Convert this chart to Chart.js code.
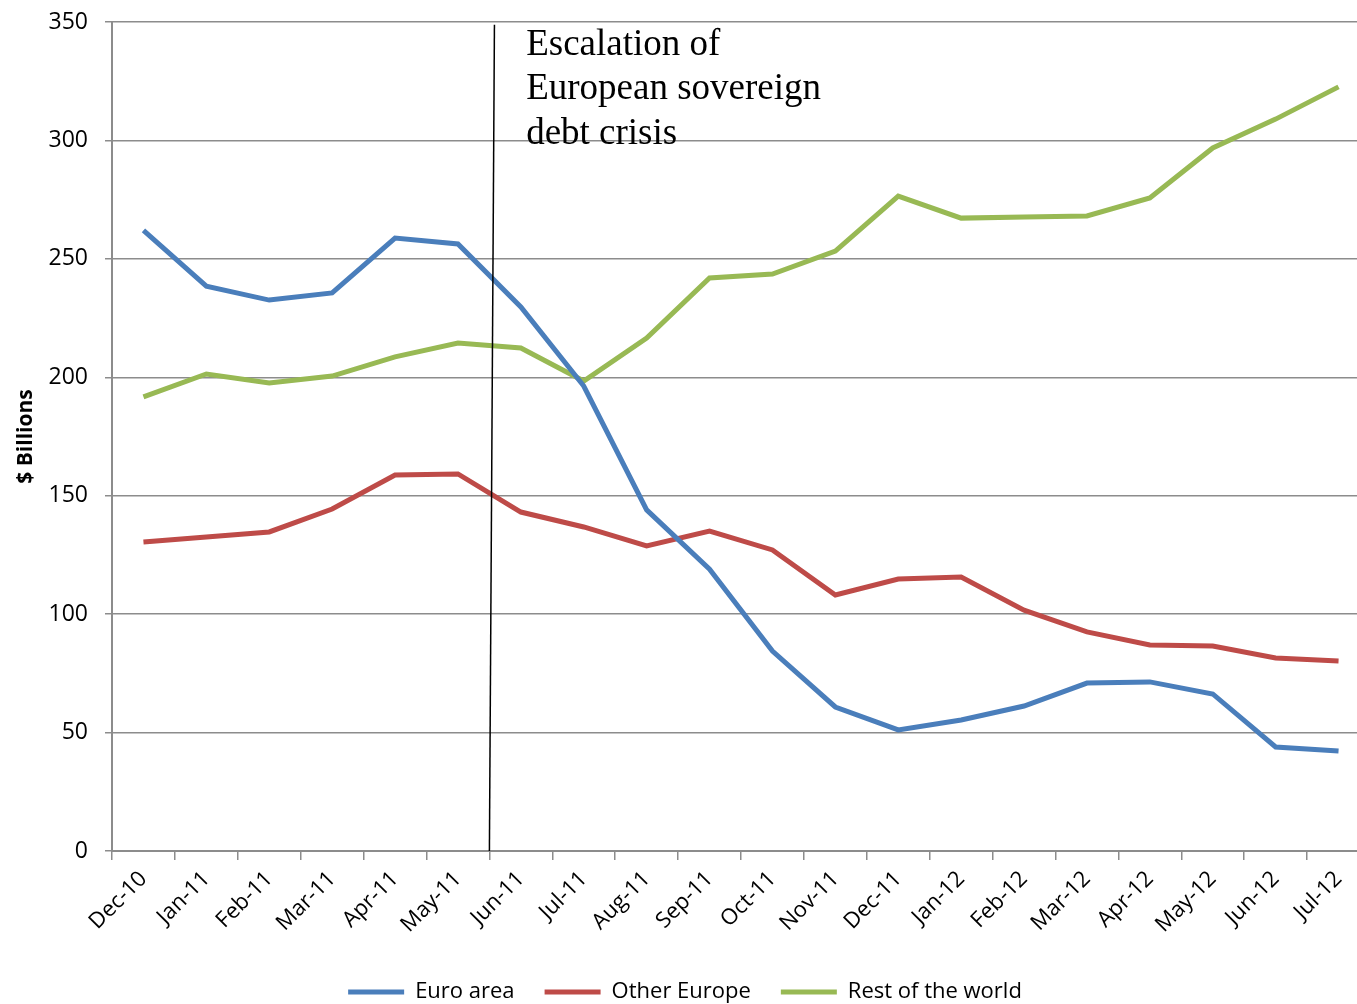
<!DOCTYPE html>
<html>
<head>
<meta charset="utf-8">
<script src="https://cdn.jsdelivr.net/npm/chart.js@4"></script>
<style>
  html, body { margin:0; padding:0; background:#fff; overflow:hidden; }
  #wrap { width:1357px; height:1004px; overflow:hidden; }
</style>
</head>
<body>
<div id="wrap"><canvas id="chart" width="1370" height="1013"></canvas></div>
<script>
const months = ["Dec-10","Jan-11","Feb-11","Mar-11","Apr-11","May-11","Jun-11","Jul-11","Aug-11","Sep-11",
  "Oct-11","Nov-11","Dec-11","Jan-12","Feb-12","Mar-12","Apr-12","May-12","Jun-12","Jul-12"];

const euroArea = [262,238.5,232.6,235.6,258.8,256.3,229.7,196.3,144,119,84.4,60.8,51.1,55.3,61.2,70.9,71.4,66.3,43.9,42.2];
const otherEurope = [130.5,132.6,134.7,144.4,158.7,159.2,143.1,136.8,128.8,135.1,127.1,108.1,114.8,115.7,101.7,92.5,87,86.5,81.5,80.2];
const restOfWorld = [191.7,201.4,197.6,200.5,208.6,214.5,212.4,198.4,216.6,241.9,243.6,253.3,276.5,267.2,267.7,268.1,275.7,296.8,309,322.6];

const yTicks = [0,50,100,150,200,250,300,350];

// crisis marker (category index, slightly slanted like the original)
const crisisTop = 5.58, crisisBottom = 5.5;
const crisisText = ["Escalation of", "European sovereign", "debt crisis"];

const sansFont = "'Open Sans', 'Liberation Sans', sans-serif";

const annotation = {
  id: "crisis",
  afterDatasetsDraw(chart){
    const x = chart.scales.x, y = chart.scales.y;
    const ctx = chart.ctx;
    ctx.save();
    ctx.strokeStyle = "#000";
    ctx.lineWidth = 1.5;
    ctx.beginPath();
    ctx.moveTo(x.getPixelForValue(crisisTop), y.getPixelForValue(348.8));
    ctx.lineTo(x.getPixelForValue(crisisBottom), y.getPixelForValue(0));
    ctx.stroke();

    ctx.fillStyle = "#000";
    ctx.font = "37px 'Liberation Serif', 'DejaVu Serif', serif";
    ctx.textBaseline = "middle";
    const tx = x.getPixelForValue(6.1) - 1;
    crisisText.forEach((t,i) => {
      ctx.fillText(t, tx, y.getPixelForValue(340.2) + i*44.5);
    });
    ctx.restore();
  }
};

const line = (label, data, color) => ({
  label, data,
  borderColor: color,
  backgroundColor: color,
  borderWidth: 5,
  pointRadius: 0,
  tension: 0,
  fill: false
});

new Chart(document.getElementById("chart"), {
  type: "line",
  data: {
    labels: months,
    datasets: [
      line("Euro area", euroArea, "#4a7ebb"),
      line("Other Europe", otherEurope, "#be4b48"),
      line("Rest of the world", restOfWorld, "#98b954")
    ]
  },
  options: {
    responsive:false,
    animation:false,
    layout:{ padding:{ top:22, right:0, left:0, bottom:0 } },
    plugins:{
      tooltip:{ enabled:false },
      legend:{
        position:"bottom",
        labels:{
          usePointStyle:true,
          pointStyle:"line",
          pointStyleWidth:56,
          boxHeight:20,
          padding:30,
          color:"#000",
          font:{ family:sansFont, size:22 }
        }
      }
    },
    scales:{
      x:{
        offset:true,
        grid:{ offset:true, drawOnChartArea:false, drawTicks:true, tickLength:9, color:"#8c8c8c", lineWidth:1.5 },
        border:{ color:"#8c8c8c", width:2 },
        ticks:{ minRotation:45, maxRotation:45, autoSkip:false, padding:6, color:"#000", font:{ family:sansFont, size:22 } },
        afterFit(s){ s.height = 100; s.paddingLeft = 0; s.paddingRight = 0; }
      },
      y:{
        min:0, max:350,
        afterBuildTicks(s){ s.ticks = yTicks.map(v => ({ value:v })); },
        grid:{ color:"#8c8c8c", lineWidth:1.5, tickLength:7 },
        border:{ color:"#8c8c8c", width:2 },
        ticks:{ padding:17, color:"#000", font:{ family:sansFont, size:23 } },
        title:{ display:true, text:"$ Billions", color:"#000", padding:{ top:13, bottom:0 }, font:{ family:sansFont, size:21, weight:"bold" } },
        afterFit(s){ s.width = 112; s.paddingTop = 0; s.paddingBottom = 0; }
      }
    }
  },
  plugins:[annotation]
});
</script>
</body>
</html>
